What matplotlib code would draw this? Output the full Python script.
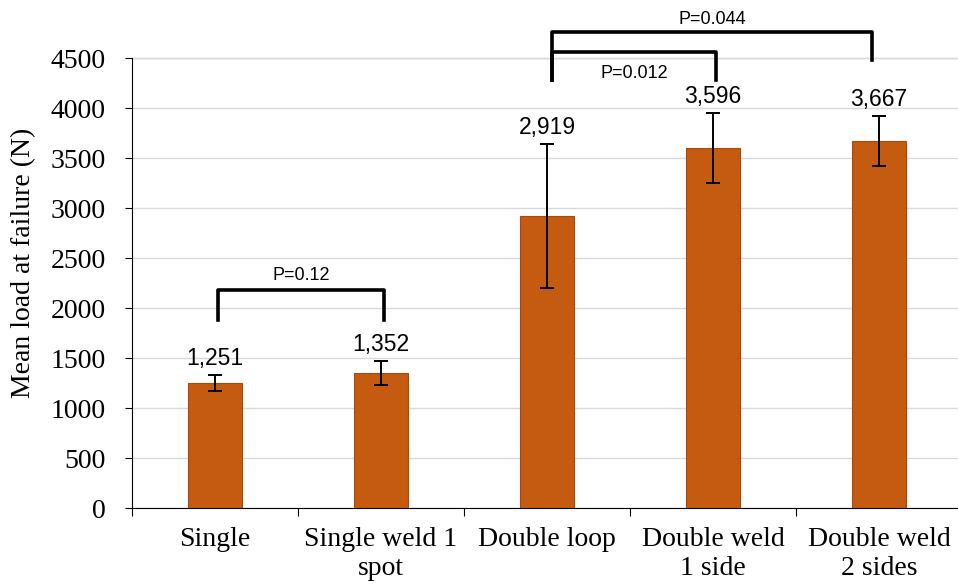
import numpy as np
import matplotlib.pyplot as plt

# data
categories = ['Single', 'Single weld 1\nspot', 'Double loop', 'Double weld\n1 side', 'Double weld\n2 sides']
means = [1251, 1352, 2919, 3596, 3667]
errors = [80, 120, 720, 350, 250]
value_labels = ['1,251', '1,352', '2,919', '3,596', '3,667']
y_ticks = [0, 500, 1000, 1500, 2000, 2500, 3000, 3500, 4000, 4500]

# significance brackets: (left x, right x, top, left leg end, right leg end, text, text y)
brackets = [
    (0.02, 1.02, 2180, 1880, 1880, 'P=0.12', 2330),
    (0.03, 1.02, 4560, 4280, 4280, 'P=0.012', 4350),
    (0.03, 1.96, 4760, 4280, 4480, 'P=0.044', 4880),
]

bar_color = '#C55A11'
serif = ['Liberation Serif', 'DejaVu Serif']
sans = ['Liberation Sans', 'DejaVu Sans']

fig = plt.figure(figsize=(9.58, 5.86), dpi=100)
ax = fig.add_axes([132 / 958, 78 / 586, 830 / 958, 450 / 586])

x = np.arange(len(categories))
ax.bar(x, means, width=0.33, color=bar_color, edgecolor='#A84A0C', linewidth=0.8, zorder=3)
ax.errorbar(x, means, yerr=errors, fmt='none', ecolor='black', elinewidth=1.4,
            capsize=5, capthick=1.4, zorder=4)

for xi, m, e, lab in zip(x, means, errors, value_labels):
    ax.text(xi, m + e + 50, lab, ha='center', va='bottom', fontsize=16.5,
            family=sans, zorder=5)

# brackets sit over pairs of bars; offsets are relative to the first bar of the pair
starts = [0, 2, 2]
for s0, (a, b, top, yl, yr, txt, ty) in zip(starts, brackets):
    xa, xb = s0 + a, s0 + b
    ax.plot([xa, xa, xb, xb], [yl, top, top, yr],
            color='black', lw=2.6, solid_joinstyle='round', clip_on=False, zorder=6)
    ax.text((xa + xb) / 2, ty, txt, ha='center', va='center', fontsize=13,
            family=sans, clip_on=False)

ax.set_xlim(-0.5, len(categories) - 0.5)
ax.set_ylim(0, 4500)
ax.set_yticks(y_ticks)
ax.set_yticklabels([str(t) for t in y_ticks], fontsize=20, family=serif)
ax.set_ylabel('Mean load at failure (N)', fontsize=20, family=serif)
ax.yaxis.set_label_coords(-0.116, 0.545)

ax.set_xticks(x)
ax.set_xticklabels(categories, fontsize=20, family=serif, linespacing=1.2)
ax.set_xticks(np.arange(len(categories) + 1) - 0.5, minor=True)
ax.tick_params(axis='x', which='major', length=0, pad=14)
ax.tick_params(axis='x', which='minor', length=6, width=0.8, direction='out')
ax.tick_params(axis='y', length=5, width=0.8, direction='out', pad=14)

ax.grid(axis='y', color='#d9d9d9', lw=1, zorder=0)
ax.axhline(4500, color='#404040', lw=0.8, zorder=1, clip_on=False)
for s in ['top', 'right']:
    ax.spines[s].set_visible(False)
ax.spines['left'].set_linewidth(0.8)
ax.spines['bottom'].set_linewidth(0.8)

fig.savefig('out.png', dpi=100)
